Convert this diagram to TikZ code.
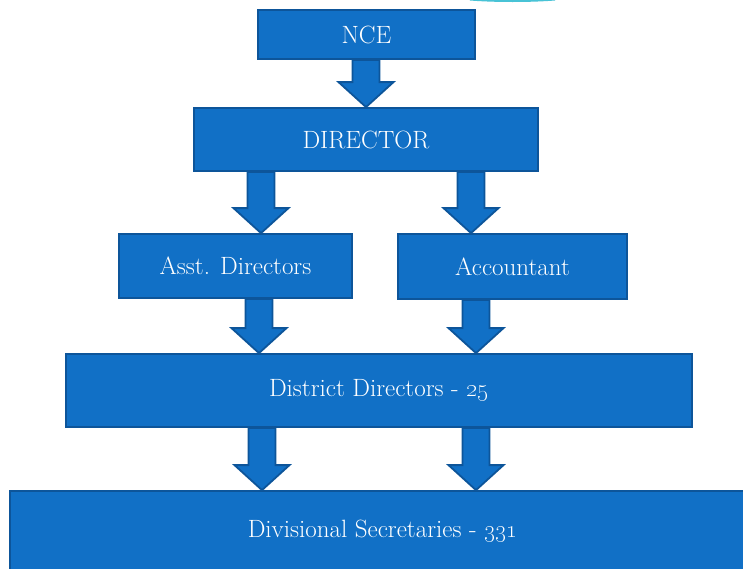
\documentclass[tikz,border=0pt]{standalone}
\usetikzlibrary{calc}
\definecolor{boxfill}{HTML}{1170C6}
\definecolor{boxline}{HTML}{0D559A}
\definecolor{arccol}{HTML}{48C3D6}
\tikzset{
  orgbox/.style={draw=boxline, fill=boxfill, line width=1.8pt, text=white,
    inner sep=0pt, font=\fontsize{25}{29}\selectfont, anchor=center},
  barrowstyle/.style={draw=boxline, fill=boxfill, line width=1.8pt, line join=miter}
}
% block arrow: #1 start (top), #2 end (tip)
\newcommand\blockarrow[2]{%
  \draw[barrowstyle] let \p1=#1, \p2=#2 in
    (\x2-13.5pt,\y1) -- (\x2-13.5pt,\y2+25pt) -- (\x2-27.5pt,\y2+25pt) -- (\x2,\y2)
    -- (\x2+27.5pt,\y2+25pt) -- (\x2+13.5pt,\y2+25pt) -- (\x2+13.5pt,\y1) -- cycle;}
\begin{document}
\begin{tikzpicture}[x=1pt,y=-1pt]
\useasboundingbox (0,0) rectangle (743,568);
\fill[white] (0,0) rectangle (743,568);
\draw[arccol, line width=2pt] (470,-0.5) .. controls (495,1.5) and (530,1.5) .. (555,-0.5);

\node[orgbox, minimum width=217pt, minimum height=49pt] (nce) at (366.5,34.5) {NCE};
\node[orgbox, minimum width=344pt, minimum height=63pt] (dir) at (366,139.5) {DIRECTOR};
\node[orgbox, minimum width=233pt, minimum height=64pt] (asst) at (235.5,266) {Asst. Directors};
\node[orgbox, minimum width=229pt, minimum height=65pt] (acct) at (512.5,266.5) {Accountant};
\node[orgbox, minimum width=626pt, minimum height=73pt] (dist) at (379,390.5) {District Directors - \oldstylenums{25}};
\node[orgbox, minimum width=746pt, minimum height=81pt] (divs) at (383,531.5) {Divisional Secretaries - \oldstylenums{331}};

\coordinate (a1s) at (nce.south);
\coordinate (a1e) at (dir.north);
\coordinate (a2s) at ([xshift=-105pt]dir.south);
\coordinate (a2e) at ([xshift=25.5pt]asst.north);
\coordinate (a3s) at ([xshift=105pt]dir.south);
\coordinate (a3e) at ([xshift=-41.5pt]acct.north);
\coordinate (a4s) at ([xshift=23.5pt]asst.south);
\coordinate (a4e) at ([xshift=-120pt]dist.north);
\coordinate (a5s) at ([xshift=-36.5pt]acct.south);
\coordinate (a5e) at ([xshift=97pt]dist.north);
\coordinate (a6s) at ([xshift=-117pt]dist.south);
\coordinate (a6e) at ([xshift=-121pt]divs.north);
\coordinate (a7s) at ([xshift=97pt]dist.south);
\coordinate (a7e) at ([xshift=93pt]divs.north);

\blockarrow{(a1s)}{(a1e)}
\blockarrow{(a2s)}{(a2e)}
\blockarrow{(a3s)}{(a3e)}
\blockarrow{(a4s)}{(a4e)}
\blockarrow{(a5s)}{(a5e)}
\blockarrow{(a6s)}{(a6e)}
\blockarrow{(a7s)}{(a7e)}
\end{tikzpicture}
\end{document}
